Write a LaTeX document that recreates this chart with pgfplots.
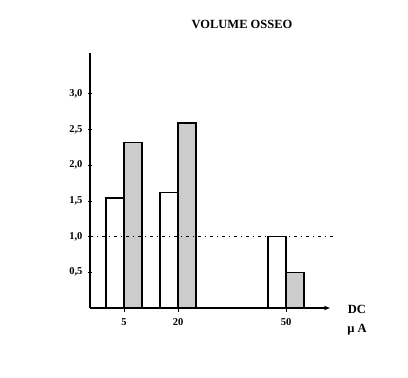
\documentclass[border=0pt]{standalone}
\usepackage{pgfplots}
\pgfplotsset{compat=1.18}
\usetikzlibrary{arrows.meta}
\usepackage{fontspec}
\setmainfont{Liberation Serif}
\begin{document}
\begin{tikzpicture}[x=1pt,y=1pt]
\useasboundingbox (0,0) rectangle (408,378);
\begin{axis}[
  at={(90pt,70pt)}, anchor=south west,
  scale only axis, width=240pt, height=255pt,
  xmin=-4.44, xmax=62.2, ymin=0, ymax=3.57,
  axis x line=bottom, axis y line=left,
  x axis line style={-{Stealth[length=6pt]}, line width=1.1pt},
  y axis line style={-, line width=1.1pt},
  xtick={5,20,50}, ytick={0.5,1,1.5,2,2.5,3},
  yticklabels={{0,5},{1,0},{1,5},{2,0},{2,5},{3,0}},
  tick align=center, major tick length=4pt,
  tick style={black, line width=0.7pt},
  /pgf/number format/assume math mode=true,
  tick label style={font=\fontsize{10.5}{12}\selectfont\bfseries},
  xticklabel style={yshift=-3pt},
  yticklabel style={xshift=-2pt},
  ybar, bar width=5,
  clip=false,
]
\addplot[draw=black, line width=1.3pt, fill=white, bar shift=-2.5] coordinates {(5,1.54) (20,1.62) (50,1.0)};
\addplot[draw=black, line width=1.3pt, fill=gray!40, bar shift=2.5] coordinates {(5,2.32) (20,2.59) (50,0.5)};
\addplot[sharp plot, draw=black, line width=0.5pt, dash pattern=on 3pt off 4pt on 1pt off 4pt] coordinates {(-4.44,1) (63.5,1)};
\end{axis}
\node[font=\fontsize{12.5}{14}\selectfont\bfseries] at (242,354) {VOLUME OSSEO};
\node[font=\fontsize{12.5}{14}\selectfont\bfseries] at (357,69) {DC};
\node[font=\fontsize{12.5}{14}\selectfont\bfseries] at (357,48) {µ A};
\end{tikzpicture}
\end{document}
